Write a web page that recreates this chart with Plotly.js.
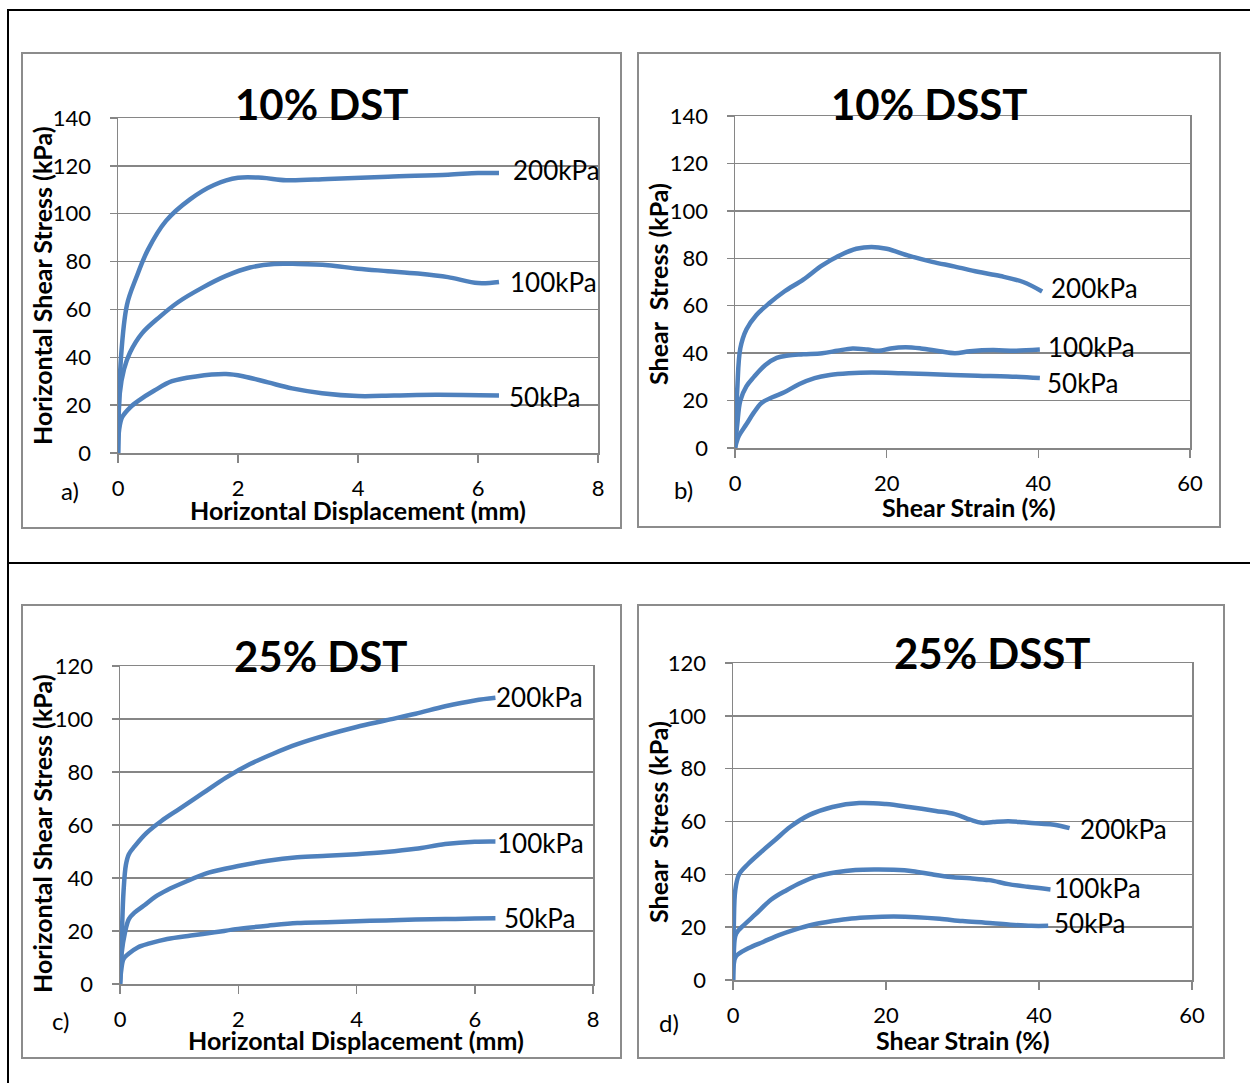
<!DOCTYPE html>
<html>
<head>
<meta charset="utf-8">
<script src="https://cdn.plot.ly/plotly-3.0.1.min.js"></script>
<style>html,body{margin:0;padding:0;background:#fff;} #chart{width:1250px;height:1083px;}</style>
</head>
<body>
<div id="chart"></div>
<script>
// ---------- DATA ----------
const seriesNames = ["200kPa", "100kPa", "50kPa"];
const panelTitles = ["10% DST", "10% DSST", "25% DST", "25% DSST"];
const panelLetters = ["a)", "b)", "c)", "d)"];
const xTitles = ["Horizontal Displacement (mm)", "Shear Strain (%)", "Horizontal Displacement (mm)", "Shear Strain (%)"];
const yTitles = ["Horizontal Shear Stress (kPa)", "Shear  Stress (kPa)", "Horizontal Shear Stress (kPa)", "Shear  Stress (kPa)"];

// a) 10% DST
const a200x = [0, 0.05, 0.15, 0.3, 0.5, 0.8, 1.2, 1.6, 2.0, 2.4, 2.8, 3.5, 4.5, 5.5, 6.0, 6.35];
const a200y = [0, 40, 62, 73, 85, 97, 106, 112, 115, 115, 114, 114.5, 115.5, 116.3, 117, 117];
const a100x = [0, 0.03, 0.1, 0.2, 0.4, 0.7, 1.0, 1.4, 1.8, 2.2, 2.6, 3.0, 3.5, 4.0, 4.5, 5.0, 5.5, 6.0, 6.35];
const a100y = [0, 25, 35, 42, 50, 57, 63, 69, 74, 77.5, 79, 79, 78.5, 77, 76, 75, 73.5, 71, 71.5];
const a50x = [0, 0.02, 0.07, 0.2, 0.35, 0.6, 0.9, 1.3, 1.8, 2.1, 2.5, 2.9, 3.4, 4.0, 4.6, 5.3, 6.35];
const a50y = [0, 10, 15, 19, 22, 26, 30, 32, 33, 32, 29.5, 27, 25, 23.8, 24, 24.3, 24];

// b) 10% DSST
const b200x = [0, 0.3, 0.7, 1.5, 2.8, 4.5, 6.5, 9, 11.5, 14, 16, 18, 20, 23, 26, 29, 32, 35, 38, 40.5];
const b200y = [0, 25, 42, 50, 56, 61, 66, 71, 77, 81.5, 84, 84.8, 84, 81, 78.5, 76.5, 74.3, 72.5, 70, 66];
const b100x = [0, 0.3, 0.7, 1.5, 2.5, 4, 5.5, 7, 9, 11.5, 13.5, 15.5, 17.5, 19, 20.5, 22.5, 24.5, 27, 29, 31, 34, 37, 40.2];
const b100y = [0, 10, 20, 26, 30, 35, 38, 39, 39.5, 40, 41, 42, 41.5, 41, 42, 42.5, 42, 40.8, 40, 40.8, 41.3, 41, 41.5];
const b50x = [0, 0.5, 1.5, 2.5, 3.5, 5, 6.5, 8.5, 10.5, 12.5, 15, 18, 22, 27, 32, 36, 40.2];
const b50y = [0, 5, 10, 15, 19, 21.5, 23.5, 27, 29.5, 30.8, 31.5, 31.8, 31.5, 31, 30.5, 30.2, 29.5];

// c) 25% DST
const c200x = [0, 0.03, 0.06, 0.1, 0.15, 0.25, 0.45, 0.7, 1.0, 1.4, 1.8, 2.2, 2.6, 3.0, 3.5, 4.0, 4.5, 5.0, 5.5, 6.0, 6.35];
const c200y = [0, 18, 35, 45, 49, 52, 57, 61.5, 66, 72, 78, 83, 87, 90.5, 94, 97, 99.5, 102, 104.8, 107, 108];
const c100x = [0, 0.03, 0.08, 0.15, 0.25, 0.4, 0.6, 0.8, 1.1, 1.5, 2.0, 2.5, 3.0, 3.5, 4.0, 4.5, 5.0, 5.5, 6.0, 6.35];
const c100y = [0, 12, 19, 24.5, 27, 29.5, 33, 35.5, 38.5, 42, 44.5, 46.5, 47.8, 48.4, 49, 49.8, 51, 52.8, 53.7, 53.8];
const c50x = [0, 0.02, 0.06, 0.15, 0.3, 0.5, 0.8, 1.2, 1.6, 2.0, 2.5, 3.0, 3.5, 4.0, 4.5, 5.0, 5.5, 6.0, 6.35];
const c50y = [0, 5, 9.5, 11.5, 13.8, 15.3, 17, 18.3, 19.5, 20.8, 22, 23, 23.3, 23.7, 24, 24.3, 24.5, 24.7, 24.8];

// d) 25% DSST
const d200x = [0, 0.1, 0.3, 0.8, 2, 3.5, 5.5, 7.5, 10, 13, 16.5, 20, 23, 26.5, 29, 31, 32.5, 34, 36, 38, 40, 42, 44];
const d200y = [0, 20, 34, 40, 44, 48, 53, 58, 62.5, 65.5, 67, 66.6, 65.5, 64, 62.8, 60.7, 59.5, 59.8, 60.1, 59.7, 59.2, 58.8, 57.5];
const d100x = [0, 0.1, 0.4, 1.5, 3, 5, 7, 9, 11, 13.5, 16, 18.5, 21, 23.5, 26, 28.5, 31, 33.5, 36, 38.5, 41.5];
const d100y = [0, 10, 17.5, 21, 25, 30.5, 34, 37, 39.3, 40.8, 41.6, 41.8, 41.7, 41.2, 40, 39, 38.5, 37.8, 36.3, 35.3, 34.3];
const d50x = [0, 0.1, 0.4, 2, 4, 6, 8, 10.5, 13, 15.5, 18, 21, 24, 27, 30, 33, 36, 39, 41.2];
const d50y = [0, 6, 9, 12, 14.5, 17, 19, 21, 22.3, 23.3, 23.8, 24, 23.8, 23.2, 22.3, 21.7, 21, 20.5, 20.5];

const xRanges = [[0, 8], [0, 60], [0, 8], [0, 60]];
const xDticks = [2, 20, 2, 20];
const yRanges = [[0, 140], [0, 140], [0, 120], [0, 120]];
const yDticks = [20, 20, 20, 20];

// ---------- LAYOUT HELPERS ----------
const W = 1250, H = 1083;
const px = v => v / W;
const py = v => 1 - v / H;

const panelData = [
  [[a200x, a200y], [a100x, a100y], [a50x, a50y]],
  [[b200x, b200y], [b100x, b100y], [b50x, b50y]],
  [[c200x, c200y], [c100x, c100y], [c50x, c50y]],
  [[d200x, d200y], [d100x, d100y], [d50x, d50y]]
];

// plot-area pixel boxes [left, right, top, bottom]
const plotBox = [[118, 598, 118, 453], [735, 1190, 116, 448], [120, 593, 666, 984], [733, 1192, 663, 980]];
// outer grey boxes
const frameBox = [[22, 621, 53, 528], [638, 1220, 53, 527], [22, 621, 605, 1058], [638, 1224, 605, 1058]];
// titles: center x, center y
const titlePos = [[322, 104], [929, 104], [321, 656], [992, 653]];
const xTitlePos = [[358, 510], [969, 507], [356, 1040], [963, 1040]];
const yTitlePos = [[42, 286], [658, 284], [42, 834], [658, 822]];
const letterPos = [[70, 490], [683, 489], [60, 1020], [669, 1022]];
// label shifts [xshift, yshift] per panel per series
const labShift = [
  [[12, 3], [9, 0], [8, -1]],
  [[7, 3], [6, 3], [5, -5]],
  [[-1, 1], [0, -2], [7, 0]],
  [[8, -1], [2, 1], [4, 3]]
];

const blue = '#4F81BD';
const grey = '#868686';
const FONT = 'Lato, "Open Sans", sans-serif';

const traces = [];
const annotations = [];
const shapes = [];
const layout = {
  width: W, height: H, autosize: false,
  margin: {l: 0, r: 0, t: 0, b: 0},
  paper_bgcolor: '#fff', plot_bgcolor: '#fff',
  showlegend: false,
  font: {family: FONT, color: '#000'}
};

for (let p = 0; p < 4; p++) {
  const sfx = p === 0 ? '' : String(p + 1);
  const xa = 'x' + sfx, ya = 'y' + sfx;
  const b = plotBox[p];
  layout['xaxis' + sfx] = {
    domain: [px(b[0]), px(b[1])], anchor: ya,
    range: xRanges[p], dtick: xDticks[p], tick0: 0,
    showgrid: false, zeroline: false,
    showline: true, linecolor: grey, linewidth: 1.5, mirror: true,
    ticks: 'outside', ticklen: 8, tickwidth: 1.5, tickcolor: grey,
    ticklabelstandoff: 7,
    tickfont: {family: FONT, size: 22, color: '#000'}
  };
  layout['yaxis' + sfx] = {
    domain: [py(b[3]), py(b[2])], anchor: xa,
    range: yRanges[p], dtick: yDticks[p], tick0: 0,
    showgrid: true, gridcolor: grey, gridwidth: 1.5, zeroline: false,
    showline: true, linecolor: grey, linewidth: 1.5, mirror: true,
    ticks: 'outside', ticklen: 7, tickwidth: 1.5, tickcolor: grey,
    ticklabelstandoff: 14,
    tickfont: {family: FONT, size: 22, color: '#000'}
  };
  panelData[p].forEach((s, i) => {
    traces.push({
      type: 'scatter', mode: 'lines', x: s[0], y: s[1], xaxis: xa, yaxis: ya,
      name: seriesNames[i],
      line: {color: blue, width: 4.5, shape: 'spline', smoothing: 1},
      hoverinfo: 'x+y'
    });
    annotations.push({
      xref: xa, yref: ya, x: s[0][s[0].length - 1], y: s[1][s[1].length - 1],
      text: seriesNames[i], showarrow: false, xanchor: 'left', yanchor: 'middle',
      xshift: labShift[p][i][0], yshift: labShift[p][i][1],
      font: {family: FONT, size: 26, color: '#000'}
    });
  });
  // panel title
  annotations.push({xref: 'paper', yref: 'paper', x: px(titlePos[p][0]), y: py(titlePos[p][1]),
    text: '<b>' + panelTitles[p] + '</b>', showarrow: false, xanchor: 'center', yanchor: 'middle',
    font: {family: FONT, size: 42, color: '#000'}});
  annotations.push({xref: 'paper', yref: 'paper', x: px(xTitlePos[p][0]), y: py(xTitlePos[p][1]),
    text: '<b>' + xTitles[p] + '</b>', showarrow: false, xanchor: 'center', yanchor: 'middle',
    font: {family: FONT, size: 25, color: '#000'}});
  annotations.push({xref: 'paper', yref: 'paper', x: px(yTitlePos[p][0]), y: py(yTitlePos[p][1]),
    text: '<b>' + yTitles[p] + '</b>', showarrow: false, xanchor: 'center', yanchor: 'middle', textangle: -90,
    font: {family: FONT, size: 25, color: '#000'}});
  annotations.push({xref: 'paper', yref: 'paper', x: px(letterPos[p][0]), y: py(letterPos[p][1]),
    text: panelLetters[p], showarrow: false, xanchor: 'center', yanchor: 'middle',
    font: {family: FONT, size: 24, color: '#000'}});
  const f = frameBox[p];
  shapes.push({type: 'rect', xref: 'paper', yref: 'paper', x0: px(f[0]), x1: px(f[1]), y0: py(f[3]), y1: py(f[2]),
    line: {color: '#8c8c8c', width: 2}, fillcolor: 'rgba(0,0,0,0)', layer: 'below'});
}
// outer table frame
shapes.push({type: 'line', xref: 'paper', yref: 'paper', x0: px(8), x1: px(1252), y0: py(10), y1: py(10), line: {color: '#000', width: 2}});
shapes.push({type: 'line', xref: 'paper', yref: 'paper', x0: px(8), x1: px(1252), y0: py(563), y1: py(563), line: {color: '#000', width: 2}});
shapes.push({type: 'line', xref: 'paper', yref: 'paper', x0: px(8), x1: px(8), y0: py(9), y1: py(1090), line: {color: '#000', width: 2}});

layout.annotations = annotations;
layout.shapes = shapes;

Plotly.newPlot('chart', traces, layout, {displayModeBar: false, staticPlot: true});
</script>
</body>
</html>
